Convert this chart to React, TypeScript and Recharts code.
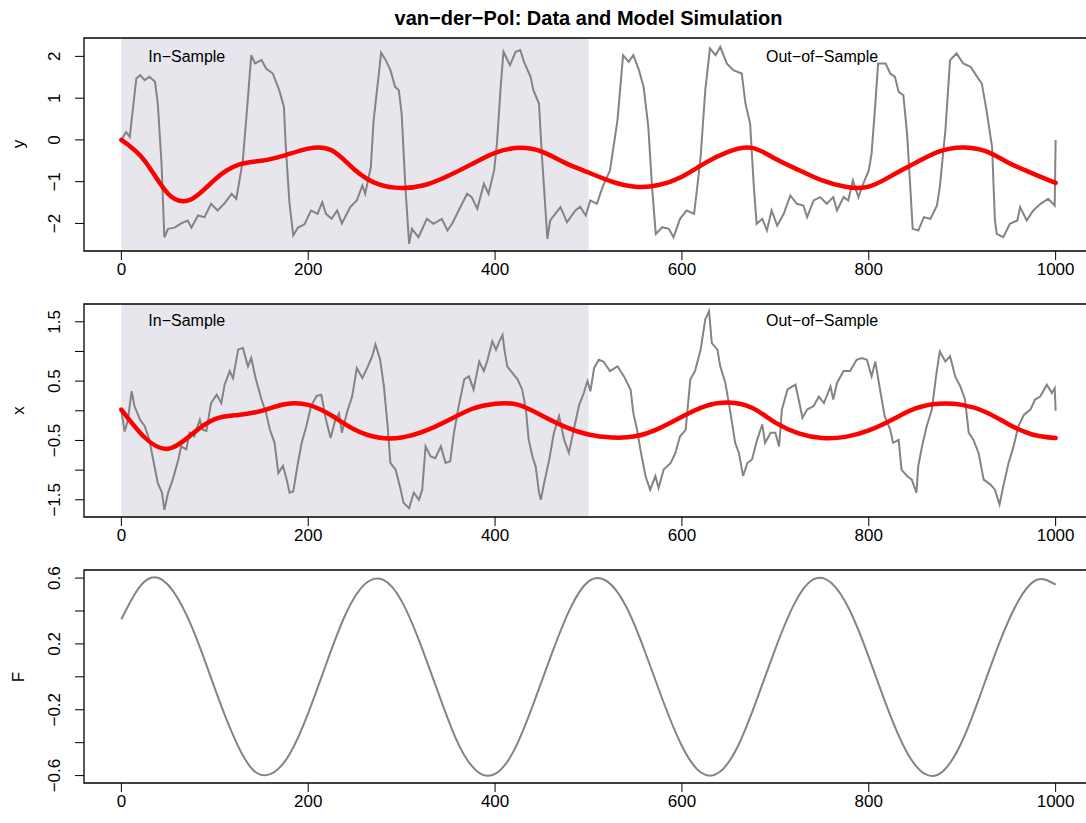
import React from "react"
import { LineChart, Line, XAxis, YAxis, ReferenceArea, ReferenceDot } from "recharts"

// ── Data ──────────────────────────────────────────────────────────────────

const X_TICKS = [0, 200, 400, 600, 800, 1000]

const Y_TICKS = [-2, -1, 0, 1, 2]
const Y_LABELS = [-2, -1, 0, 1, 2]
const XP_TICKS = [-1.5, -1, -0.5, 0, 0.5, 1, 1.5]
const XP_LABELS = [-1.5, -0.5, 0.5, 1.5]
const F_TICKS = [-0.6, -0.4, -0.2, 0, 0.2, 0.4, 0.6]
const F_LABELS = [-0.6, -0.2, 0.2, 0.6]

// observed y (time, value)
const OBS_Y: [number, number][] = [
  [0, 0.0], [5, 0.19], [9, 0.07], [16, 1.47], [20, 1.55], [25, 1.43], [30, 1.51], [36, 1.39],
  [39, 0.87], [43, -0.57], [46, -2.33], [50, -2.13], [57, -2.1], [64, -2.0], [71, -1.93],
  [75, -2.1], [82, -1.81], [89, -1.85], [96, -1.53], [103, -1.69], [110, -1.53], [118, -1.29],
  [123, -1.41], [127, -0.89], [130, -0.49], [135, 0.87], [139, 2.03], [143, 1.83], [150, 1.91],
  [155, 1.71], [162, 1.59], [169, 1.19], [174, 0.79], [176, -0.17], [180, -1.53], [184, -2.29],
  [189, -2.1], [196, -2.02], [203, -1.69], [210, -1.77], [215, -1.49], [219, -1.77], [225, -1.89],
  [231, -1.69], [236, -2.0], [245, -1.61], [252, -1.45], [258, -1.09], [261, -1.29], [267, -0.65],
  [270, 0.47], [276, 1.67], [278, 2.09], [283, 1.91], [288, 1.67], [293, 1.27], [297, 1.19],
  [300, 0.63], [304, -1.13], [308, -2.49], [311, -2.13], [318, -2.33], [327, -1.89], [334, -2.01],
  [343, -1.89], [349, -2.17], [354, -2.01], [361, -1.69], [370, -1.29], [375, -1.37], [381, -1.65],
  [388, -1.05], [393, -1.29], [399, -0.73], [402, -0.09], [406, 1.27], [409, 2.11], [416, 1.79],
  [422, 2.11], [427, 2.15], [431, 1.87], [438, 1.51], [441, 1.19], [447, 0.87], [450, -0.33],
  [454, -1.69], [456, -2.37], [459, -1.93], [470, -1.61], [477, -1.97], [486, -1.69], [491, -1.6],
  [497, -1.81], [502, -1.45], [509, -1.53], [515, -1.13], [523, -0.73], [531, 0.47], [537, 2.03],
  [543, 1.87], [548, 2.03], [554, 1.67], [559, 1.27], [564, 0.31], [568, -1.13], [572, -2.25],
  [579, -2.09], [586, -2.13], [591, -2.33], [598, -1.89], [605, -1.69], [613, -1.77], [616, -1.21],
  [620, -0.41], [625, 1.19], [630, 2.19], [636, 2.03], [641, 2.23], [648, 1.83], [655, 1.67],
  [664, 1.59], [668, 0.87], [673, 0.39], [677, -1.13], [680, -2.01], [686, -1.89], [691, -2.17],
  [696, -1.69], [702, -2.05], [709, -1.77], [716, -1.33], [723, -1.53], [730, -1.57], [734, -1.85],
  [741, -1.45], [748, -1.37], [755, -1.53], [762, -1.37], [766, -1.69], [773, -1.37], [778, -1.45],
  [783, -0.97], [789, -1.37], [794, -1.05], [800, -0.73], [803, -0.33], [807, 0.87], [810, 1.83],
  [818, 1.83], [823, 1.59], [828, 1.51], [832, 1.15], [837, 1.07], [841, 0.15], [844, -0.97],
  [847, -2.13], [853, -2.17], [859, -1.85], [866, -1.89], [873, -1.57], [876, -1.13], [882, 0.23],
  [887, 1.91], [894, 2.07], [901, 1.83], [909, 1.75], [916, 1.51], [921, 1.35], [926, 0.71],
  [932, -0.17], [935, -1.93], [937, -2.25], [944, -2.33], [951, -2.01], [959, -1.93], [962, -1.61],
  [969, -1.93], [976, -1.69], [984, -1.53], [992, -1.41], [999, -1.57], [1000, 0.0],
]

// observed x (time, value)
const OBS_X: [number, number][] = [
  [0, 0.0], [3.5, -0.35], [7, -0.15], [11, 0.33], [14, 0.08], [20, -0.15], [25, -0.26], [30, -0.49],
  [34, -0.82], [39, -1.22], [43.5, -1.38], [46, -1.67], [50, -1.38], [55, -1.16], [61, -0.82],
  [64, -0.6], [69.5, -0.65], [73, -0.37], [78, -0.43], [84, -0.15], [87, -0.32], [91, -0.34],
  [96, 0.13], [102, 0.27], [107, 0.13], [110.5, 0.44], [116, 0.67], [119.5, 0.55], [125, 1.03],
  [130, 1.06], [135.5, 0.75], [139, 0.89], [144, 0.53], [150, 0.19], [155, -0.04], [159, -0.32],
  [164, -0.54], [168, -1.05], [173, -0.93], [177, -1.16], [180, -1.38], [184, -1.36], [189, -0.88],
  [193, -0.54], [198, -0.26], [203, 0.08], [209, 0.25], [214, 0.27], [219, -0.15], [224, -0.46],
  [229, -0.15], [233, -0.04], [236, -0.37], [242, 0.0], [247, 0.24], [252, 0.72], [258, 0.55],
  [263, 0.72], [268.5, 0.92], [272, 1.12], [277, 0.86], [281, 0.41], [285, -0.26], [288, -0.88],
  [293.5, -0.99], [299, -1.33], [302, -1.55], [308, -1.64], [313, -1.38], [318.5, -1.5], [322, -1.33],
  [325.6, -0.6], [331, -0.77], [336, -0.8], [342, -0.6], [347, -0.88], [352, -0.85], [356, -0.37],
  [361, 0.07], [367, 0.53], [372, 0.58], [377, 0.36], [383, 0.83], [388, 0.67], [392, 0.86],
  [397, 1.17], [401, 1.03], [404, 1.15], [408, 1.28], [410, 1.03], [413, 0.75], [418.5, 0.64],
  [424, 0.53], [429, 0.36], [433, 0.02], [436, -0.49], [440, -0.77], [443.5, -0.94], [447, -1.38],
  [449, -1.5], [452.5, -1.22], [458, -0.82], [463, -0.37], [468.5, -0.09], [474, -0.49], [479, -0.71],
  [485, -0.26], [490, 0.1], [495, 0.3], [497, 0.41], [499, 0.5], [502, 0.33], [506, 0.72],
  [511, 0.86], [516, 0.83], [523, 0.67], [531, 0.75], [538, 0.58], [545, 0.36], [548, -0.04],
  [552, -0.32], [555.5, -0.65], [561, -1.1], [566, -1.33], [571.6, -1.1], [575, -1.3], [580.5, -0.99],
  [588, -0.88], [593, -0.71], [598, -0.43], [604, -0.32], [609, 0.53], [614, 0.67], [620, 1.03],
  [625, 1.54], [629, 1.68], [632, 1.14], [638, 1.03], [641, 0.75], [646.5, 0.47], [652, -0.04],
  [657, -0.54], [661, -0.71], [665.5, -1.1], [670, -0.88], [675, -0.82], [680.5, -0.49], [686, -0.23],
  [689, -0.54], [695, -0.37], [700, -0.37], [704, -0.6], [707, 0.02], [713, 0.36], [721.5, 0.44],
  [725, 0.19], [729, -0.12], [734, 0.02], [741, 0.08], [746.5, 0.24], [752, 0.13], [759, 0.41],
  [762, 0.19], [766, 0.47], [773, 0.67], [780, 0.67], [787, 0.86], [792.5, 0.89], [798, 0.86],
  [803, 0.58], [807, 0.83], [812, 0.36], [817, -0.09], [823, -0.32], [826, -0.54], [832, -0.49],
  [835, -0.99], [841, -1.1], [846, -1.16], [851, -1.38], [853, -0.93], [857, -0.6], [862, -0.26],
  [867.5, 0.02], [872, 0.58], [876, 1.0], [882, 0.83], [887, 0.92], [892.5, 0.58], [898, 0.41],
  [903, 0.19], [907, -0.37], [912, -0.49], [917.5, -0.71], [923, -1.16], [930, -1.24], [935, -1.33],
  [940, -1.58], [944, -1.27], [949.6, -0.88], [955, -0.6], [960, -0.26], [966, -0.07], [973, 0.02],
  [978, 0.19], [983.5, 0.24], [990.6, 0.44], [996, 0.3], [999, 0.38], [1000, 0.0],
]

// model simulation, sampled every 25 steps
const MODEL_T = [
  0, 25, 50, 75, 100, 125, 150, 175, 200, 225, 250, 275, 300, 325, 350, 375, 400, 425, 450, 475,
  500, 525, 550, 575, 600, 625, 650, 675, 700, 725, 750, 775, 800, 825, 850, 875, 900, 925, 950, 975, 1000,
]
const MODEL_Y = [
  0.0, -0.5, -1.29, -1.42, -0.95, -0.6, -0.5, -0.37, -0.21, -0.25, -0.72, -1.06, -1.15, -1.08, -0.86,
  -0.58, -0.31, -0.19, -0.28, -0.55, -0.78, -1.0, -1.12, -1.08, -0.88, -0.55, -0.28, -0.19, -0.45,
  -0.72, -0.97, -1.12, -1.12, -0.85, -0.55, -0.28, -0.18, -0.27, -0.55, -0.8, -1.03,
]
const MODEL_X = [
  0.02, -0.45, -0.64, -0.4, -0.14, -0.07, 0.0, 0.11, 0.1, -0.08, -0.32, -0.45, -0.45, -0.34, -0.16,
  0.03, 0.12, 0.1, -0.08, -0.27, -0.4, -0.45, -0.43, -0.3, -0.1, 0.08, 0.14, 0.05, -0.2, -0.38,
  -0.46, -0.44, -0.33, -0.15, 0.04, 0.12, 0.1, -0.02, -0.23, -0.4, -0.46,
]

// forcing F, sampled every 20 steps
const F_T = [
  0, 20, 40, 60, 80, 100, 120, 140, 160, 180, 200, 220, 240, 260, 280, 300, 320, 340, 360, 380, 400,
  420, 440, 460, 480, 500, 520, 540, 560, 580, 600, 620, 640, 660, 680, 700, 720, 740, 760, 780, 800,
  820, 840, 860, 880, 900, 920, 940, 960, 980, 1000,
]
const F_VALS = [
  0.35, 0.55, 0.6, 0.48, 0.24, -0.07, -0.36, -0.56, -0.59, -0.47, -0.22, 0.09, 0.38, 0.56, 0.59,
  0.46, 0.2, -0.11, -0.4, -0.57, -0.59, -0.45, -0.18, 0.13, 0.41, 0.58, 0.58, 0.43, 0.16, -0.15,
  -0.42, -0.58, -0.58, -0.42, -0.14, 0.17, 0.44, 0.59, 0.57, 0.4, 0.12, -0.19, -0.45, -0.59, -0.57,
  -0.39, -0.1, 0.21, 0.46, 0.59, 0.56,
]

// ── Style ──────────────────────────────────────────────────────────────────

const FONT = "'Liberation Sans', Arial, Helvetica, sans-serif"
const GRAY = "#848484"
const RED = "#FF0000"
const SHADE = "#E6E6EC"
const X_DOMAIN: [number, number] = [-40, 1040]

const pairs = (rows: [number, number][]) => rows.map(([t, v]) => ({ t, v }))
const zip = (ts: number[], vs: number[]) => ts.map((t, i) => ({ t, v: vs[i] }))
const fmt = (v: number) => String(v).replace("-", "\u2212")

function yTick(labels: number[]) {
  return (props: any) => {
    const { y, payload } = props
    const v = payload.value
    if (!labels.some((l) => Math.abs(l - v) < 1e-9)) return <g />
    return (
      <text
        x={55}
        y={y}
        transform={`rotate(-90 55 ${y})`}
        textAnchor="middle"
        dominantBaseline="central"
        fontSize={17}
        fill="#000"
        fontFamily={FONT}
      >
        {fmt(v)}
      </text>
    )
  }
}

type PanelProps = {
  top: number
  domain: [number, number]
  ticks: number[]
  labels: number[]
  obs: { t: number; v: number }[]
  model?: { t: number; v: number }[]
  sample?: number
  smooth?: boolean
}

function Panel({ top, domain, ticks, labels, obs, model, sample, smooth }: PanelProps) {
  return (
    <div style={{ position: "absolute", left: 0, top }}>
      <LineChart width={1100} height={300} margin={{ top: 38, right: 7, bottom: 9, left: 0 }}>
        <XAxis
          type="number"
          dataKey="t"
          domain={X_DOMAIN}
          ticks={X_TICKS}
          allowDataOverflow
          axisLine={false}
          tickLine={{ stroke: "#000" }}
          tickSize={9}
          tickMargin={3}
          height={40}
          tick={{ fontSize: 17, fill: "#000", fontFamily: FONT }}
        />
        <YAxis
          type="number"
          dataKey="v"
          domain={domain}
          ticks={ticks}
          allowDataOverflow
          width={84}
          axisLine={false}
          tickLine={{ stroke: "#000" }}
          tickSize={9}
          tick={yTick(labels)}
        />
        {sample !== undefined && (
          <ReferenceArea
            x1={0}
            x2={500}
            y1={domain[0]}
            y2={domain[1]}
            fill={SHADE}
            fillOpacity={1}
            stroke="none"
          />
        )}
        <Line
          data={obs}
          dataKey="v"
          type={smooth ? "natural" : "linear"}
          stroke={GRAY}
          strokeWidth={2}
          dot={false}
          activeDot={false}
          isAnimationActive={false}
        />
        {model && (
          <Line
            data={model}
            dataKey="v"
            type="natural"
            stroke={RED}
            strokeWidth={4.5}
            strokeLinecap="round"
            dot={false}
            activeDot={false}
            isAnimationActive={false}
          />
        )}
        {sample !== undefined && (
          <ReferenceDot
            x={70}
            y={sample}
            r={0}
            fill="none"
            stroke="none"
            label={{ value: "In\u2212Sample", position: "center", fontSize: 16, fill: "#000", fontFamily: FONT }}
          />
        )}
        {sample !== undefined && (
          <ReferenceDot
            x={750}
            y={sample}
            r={0}
            fill="none"
            stroke="none"
            label={{ value: "Out\u2212of\u2212Sample", position: "center", fontSize: 16, fill: "#000", fontFamily: FONT }}
          />
        )}
        <ReferenceArea
          x1={X_DOMAIN[0]}
          x2={X_DOMAIN[1]}
          y1={domain[0]}
          y2={domain[1]}
          fill="none"
          stroke="#000"
          strokeWidth={1.3}
        />
      </LineChart>
    </div>
  )
}

export default function App() {
  return (
    <div
      style={{
        position: "absolute",
        left: 0,
        top: 0,
        width: 1086,
        height: 823,
        overflow: "hidden",
        background: "#fff",
        fontFamily: FONT,
      }}
    >
      <Panel
        top={0}
        domain={[-2.66, 2.44]}
        ticks={Y_TICKS}
        labels={Y_LABELS}
        obs={pairs(OBS_Y)}
        model={zip(MODEL_T, MODEL_Y)}
        sample={2.01}
      />
      <Panel
        top={266}
        domain={[-1.79, 1.8]}
        ticks={XP_TICKS}
        labels={XP_LABELS}
        obs={pairs(OBS_X)}
        model={zip(MODEL_T, MODEL_X)}
        sample={1.52}
      />
      <Panel
        top={532}
        domain={[-0.645, 0.649]}
        ticks={F_TICKS}
        labels={F_LABELS}
        obs={zip(F_T, F_VALS)}
        smooth
      />
      <svg
        width={1086}
        height={823}
        style={{ position: "absolute", left: 0, top: 0, pointerEvents: "none" }}
      >
        <text x={588.5} y={18} textAnchor="middle" dominantBaseline="central" fontSize={20} fontWeight="bold" fontFamily={FONT}>
          van{"\u2212"}der{"\u2212"}Pol: Data and Model Simulation
        </text>
        <text x={18} y={144} transform="rotate(-90 18 144)" textAnchor="middle" dominantBaseline="central" fontSize={17} fontFamily={FONT}>
          y
        </text>
        <text x={18} y={410.5} transform="rotate(-90 18 410.5)" textAnchor="middle" dominantBaseline="central" fontSize={17} fontFamily={FONT}>
          x
        </text>
        <text x={18} y={677} transform="rotate(-90 18 677)" textAnchor="middle" dominantBaseline="central" fontSize={17} fontFamily={FONT}>
          F
        </text>
      </svg>
    </div>
  )
}
